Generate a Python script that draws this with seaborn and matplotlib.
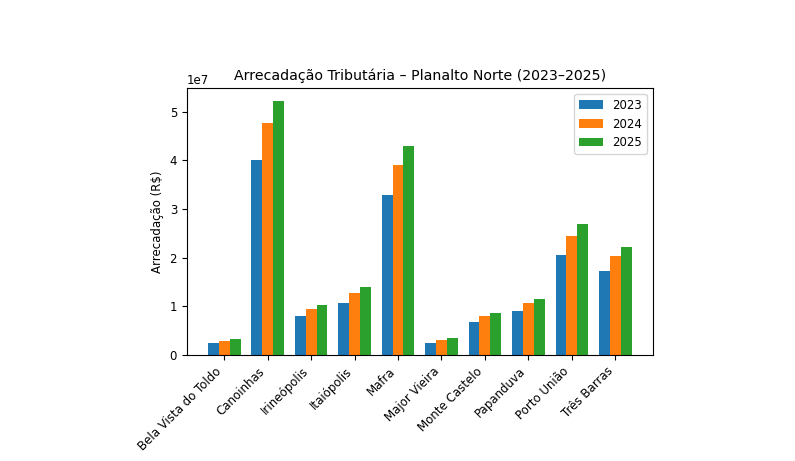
import pandas as pd
import seaborn as sns
import matplotlib.pyplot as plt

#data
municipios = ['Bela Vista do Toldo', 'Canoinhas', 'Irineópolis', 'Itaiópolis', 'Mafra',
              'Major Vieira', 'Monte Castelo', 'Papanduva', 'Porto União', 'Três Barras']
anos = ['2023', '2024', '2025']
valores_2023 = [2.4e6, 4.02e7, 8.0e6, 1.07e7, 3.30e7, 2.5e6, 6.7e6, 9.0e6, 2.06e7, 1.73e7]
valores_2024 = [2.9e6, 4.77e7, 9.5e6, 1.28e7, 3.91e7, 3.1e6, 8.0e6, 1.06e7, 2.45e7, 2.04e7]
valores_2025 = [3.2e6, 5.23e7, 1.03e7, 1.405e7, 4.29e7, 3.4e6, 8.6e6, 1.16e7, 2.69e7, 2.23e7]

#long format table for seaborn
df = pd.DataFrame({'Município': municipios * 3,
                   'Ano': [anos[0]] * 10 + [anos[1]] * 10 + [anos[2]] * 10,
                   'Arrecadação': valores_2023 + valores_2024 + valores_2025})

plt.rcParams['font.size'] = 8.5

fig = plt.figure(figsize=(7.95, 4.61), dpi=100)
ax = fig.add_axes([0.235, 0.23, 0.586, 0.579])

sns.barplot(data=df, x='Município', y='Arrecadação', hue='Ano', ax=ax,
            palette=['#1f77b4', '#ff7f0e', '#2ca02c'], saturation=1,
            width=0.75, errorbar=None, linewidth=0)

#matplotlib-like x margins instead of seaborn's categorical limits
ax.set_xlim(-0.8625, 9.8625)
ax.set_ylim(0, 5.49e7)
ax.ticklabel_format(axis='y', style='sci', scilimits=(0, 0))

ax.set_title('Arrecadação Tributária – Planalto Norte (2023–2025)', fontsize=10.2)
ax.set_xlabel('')
ax.set_ylabel('Arrecadação (R$)')
plt.setp(ax.get_xticklabels(), rotation=45, ha='right')
ax.legend(loc='upper right', title=None)

fig.savefig('out.png', dpi=100)
